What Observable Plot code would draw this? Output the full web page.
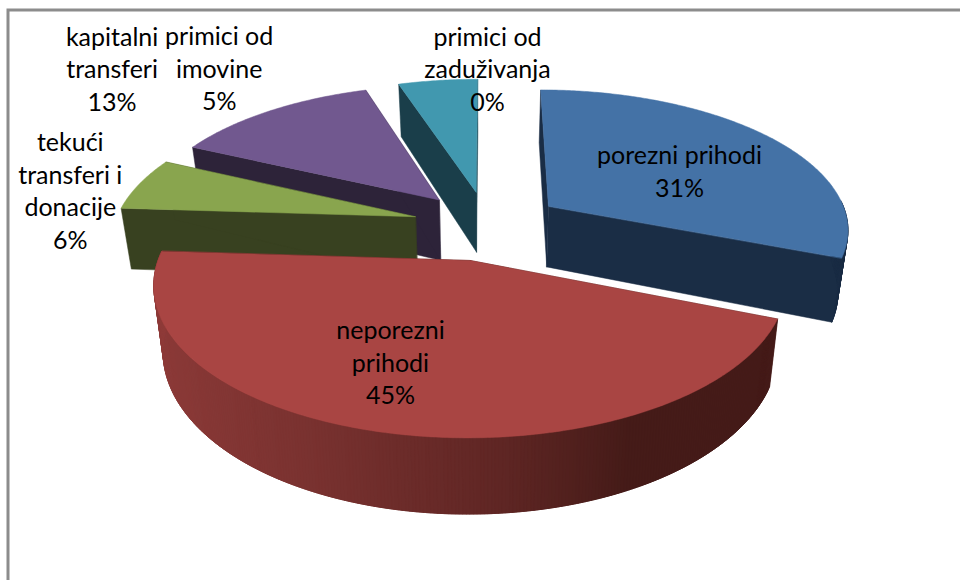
<!DOCTYPE html>
<html>
<head>
<meta charset="utf-8">
<script src="https://cdn.jsdelivr.net/npm/d3@7"></script>
<script src="https://cdn.jsdelivr.net/npm/@observablehq/plot@0.6"></script>
<style>
html,body{margin:0;padding:0;background:#fff;overflow:hidden}
svg{display:block}
</style>
</head>
<body>
<div id="chart"></div>
<script>
// ---- data ----
const categories = ["porezni prihodi", "neporezni prihodi", "tekući transferi i donacije", "kapitalni transferi", "primici od imovine", "primici od zaduživanja"];
const shares = [31, 45, 6, 13, 5, 0];
const labelLines = ["porezni prihodi\n31%", "neporezni\nprihodi\n45%", "tekući\ntransferi i\ndonacije\n6%", "kapitalni\ntransferi\n13%", "primici od\nimovine\n5%", "primici od\nzaduživanja\n0%"];

// ---- styles / layout ----
const topColors = ["#4472a6", "#a94543", "#89a54e", "#71588f", "#4198af", "#db843d"];
const wallColors = ["#1a2d45", "#451b18", "#384120", "#2d2339", "#1a3e4a", "#5a3618"];
const paintOrder = [5, 4, 3, 2, 0, 1];      // back slices first
const labelOffset = [[131, -36], [-80, 101], [-345, -27], [-327, -132], [-257, -125], [0, -124]];
const explode = 0.25, pers = 0.15, centerX = 487, centerY = 224.8, scaleX = 301, scaleY = 139;
const wallDrop = 62, wallShrink = 0.972;
const WIDTH = 960, HEIGHT = 580;

// perspective projection of the pie plane
const project = ([X, Y], low = false) => {
  const s = 1 / (1 - pers * Y);
  const px = centerX + scaleX * X * s;
  const py = centerY + scaleY * Y * s;
  return low ? [centerX + (px - centerX) * wallShrink, py + wallDrop * s] : [px, py];
};

const pieAngles = d3.pie().sort(null).value(d => d)(shares);
const dir = a => [Math.sin(a), -Math.cos(a)];
const polys = [];
let pid = 0;
const addPoly = (pts, color) => {
  const id = pid++;
  pts.forEach(p => polys.push({id, x: p[0], y: p[1], color}));
};
const redWall = d3.scaleLinear().domain([-1, -0.45, 0.1, 0.45, 1]).range(["#8e3b39", "#7a3230", "#5f2624", "#451b18", "#451b18"]);

const apexes = pieAngles.map(p => {
  const m = dir((p.startAngle + p.endAngle) / 2);
  return [m[0] * explode, m[1] * explode];
});

for (const i of paintOrder) {
  const p = pieAngles[i];
  if (p.endAngle - p.startAngle <= 0) continue;
  const a = apexes[i];
  const n = Math.max(3, Math.ceil((p.endAngle - p.startAngle) / 0.01));
  const rim = d3.range(n + 1).map(k => {
    const t = p.startAngle + (p.endAngle - p.startAngle) * k / n;
    const d = dir(t);
    return {t, w: [a[0] + d[0], a[1] + d[1]]};
  });
  // radial walls
  for (const r of [rim[0], rim[n]]) {
    addPoly([project(a), project(r.w), project(r.w, true), project(a, true)], wallColors[i]);
  }
  // outer wall strips, only where the rim faces the viewer; each overlaps the next
  for (let k = 0; k < n; k++) {
    if (Math.cos(rim[k].t) > 0.05) continue;
    const e = rim[Math.min(k + 3, n)];
    const c = i === 1 ? redWall(Math.sin(rim[k].t)) : wallColors[i];
    addPoly([project(rim[k].w), project(e.w), project(e.w, true), project(rim[k].w, true)], c);
  }
  // top face
  addPoly([project(a), ...rim.map(r => project(r.w))], topColors[i]);
}

const labels = categories.map((name, i) => {
  const c = project(apexes[i]);
  return {name, text: labelLines[i], x: c[0] + labelOffset[i][0], y: c[1] + labelOffset[i][1]};
});

const chart = Plot.plot({
  width: WIDTH, height: HEIGHT,
  margin: 0,
  x: {domain: [0, WIDTH], range: [0, WIDTH], axis: null},
  y: {domain: [0, HEIGHT], range: [0, HEIGHT], axis: null},
  color: {type: "identity"},
  style: {background: "#fff"},
  marks: [
    Plot.frame({stroke: "#8c8c8c", strokeWidth: 3, insetLeft: 7.5, insetTop: 9.5, insetRight: -10, insetBottom: -10}),
    Plot.line(polys, {x: "x", y: "y", z: "id", fill: "color", stroke: "color", strokeWidth: 0.5, curve: "linear-closed"}),
    Plot.text(labels, {x: "x", y: "y", text: "text", fill: "#000", fontSize: 25, lineHeight: 1.3, fontFamily: "Lato", textAnchor: "middle"})
  ]
});
document.getElementById("chart").appendChild(chart);
</script>
</body>
</html>
